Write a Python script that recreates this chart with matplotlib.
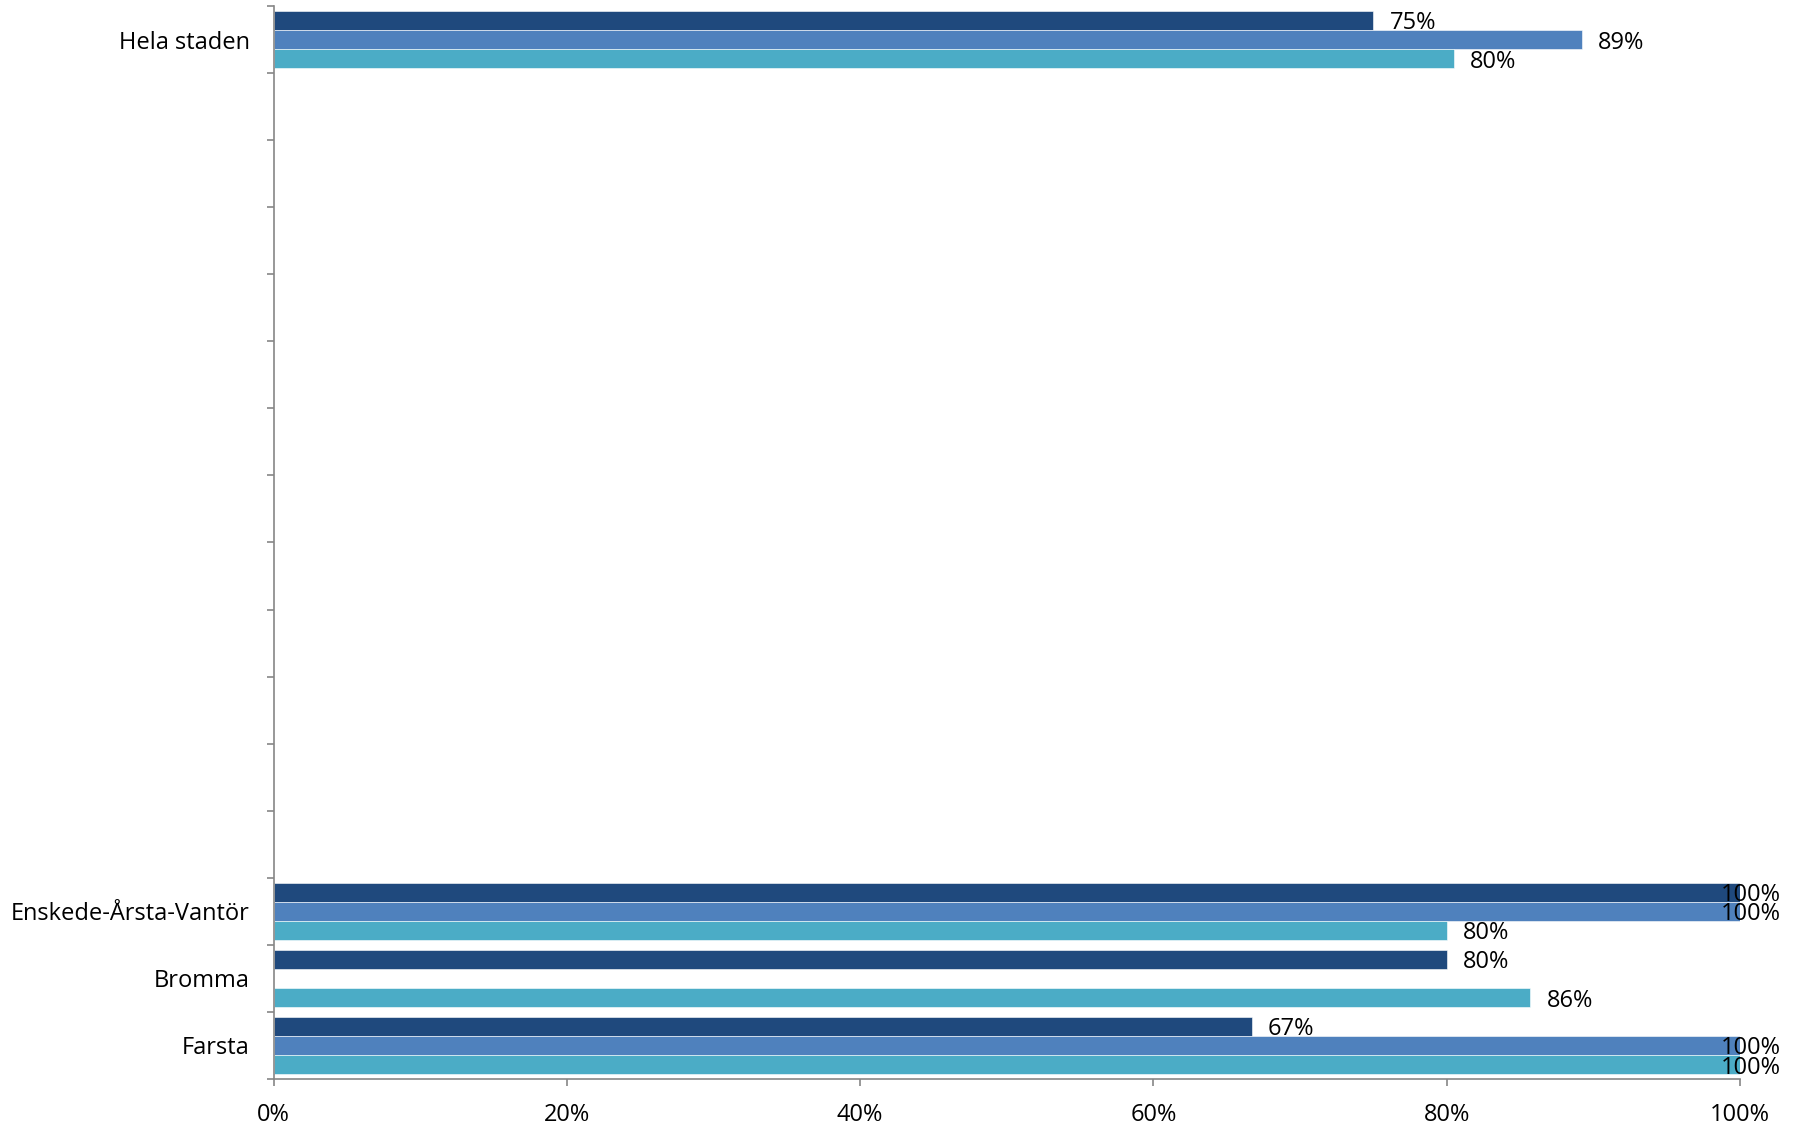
import numpy as np
import matplotlib
matplotlib.use("Agg")
import matplotlib.pyplot as plt
from matplotlib.ticker import FuncFormatter

plt.rcParams['font.family'] = ['Open Sans', 'DejaVu Sans']

# Categories from bottom to top (16 slots, 12 blank)
categories = ["Farsta", "Bromma", "Enskede-Årsta-Vantör"] + [""] * 12 + ["Hela staden"]
series1 = [0.667, 0.80, 1.00] + [np.nan] * 12 + [0.75]   # dark navy (top bar)
series2 = [1.00, np.nan, 1.00] + [np.nan] * 12 + [0.892]  # mid blue
series3 = [1.00, 0.857, 0.80] + [np.nan] * 12 + [0.805]   # teal (bottom bar)
label1 = ["67%", "80%", "100%"] + [""] * 12 + ["75%"]
label2 = ["100%", "", "100%"] + [""] * 12 + ["89%"]
label3 = ["100%", "86%", "80%"] + [""] * 12 + ["80%"]
xticks = [0, 0.2, 0.4, 0.6, 0.8, 1.0]

colors = ["#1F497D", "#4F81BD", "#4BACC6"]

fig = plt.figure(figsize=(18, 11.29), dpi=100)
ax = fig.add_axes([0.152, 0.0443, 0.8147, 0.9504])

n = len(categories)
y = np.arange(n)
h = 0.285
offsets = [h, 0, -h]
fs = 17
for vals, labs, off, col in zip([series1, series2, series3], [label1, label2, label3], offsets, colors):
    v = np.array(vals, dtype=float)
    ax.barh(y + off, np.nan_to_num(v), height=h, color=col, edgecolor='white', linewidth=0.4)
    for yi, val, lab in zip(y, v, labs):
        if np.isnan(val) or lab == "":
            continue
        if val >= 0.99:
            ax.text(1.0275, yi + off, lab, ha='right', va='center_baseline', fontsize=fs, color='black', clip_on=False)
        else:
            ax.text(val + 0.011, yi + off, lab, ha='left', va='center_baseline', fontsize=fs, color='black')

ax.set_xlim(0, 1.0)
ax.set_ylim(-0.5, n - 0.5)
ax.set_xticks(xticks)
ax.xaxis.set_major_formatter(FuncFormatter(lambda v, p: f"{int(round(v*100))}%"))
ax.set_yticks(y)
ax.set_yticklabels(categories)
ax.set_yticks(np.arange(-0.5, n, 1.0), minor=True)

for s in ['top', 'right']:
    ax.spines[s].set_visible(False)
for s in ['left', 'bottom']:
    ax.spines[s].set_color('#868686')
    ax.spines[s].set_linewidth(1.2)

ax.tick_params(axis='x', direction='out', length=5, width=1.2, color='#868686', pad=12, labelsize=fs)
ax.tick_params(axis='y', which='major', length=0, pad=17, labelsize=fs)
ax.tick_params(axis='y', which='minor', direction='out', length=5, width=1.2, color='#868686')

fig.savefig("out.png", dpi=100)
